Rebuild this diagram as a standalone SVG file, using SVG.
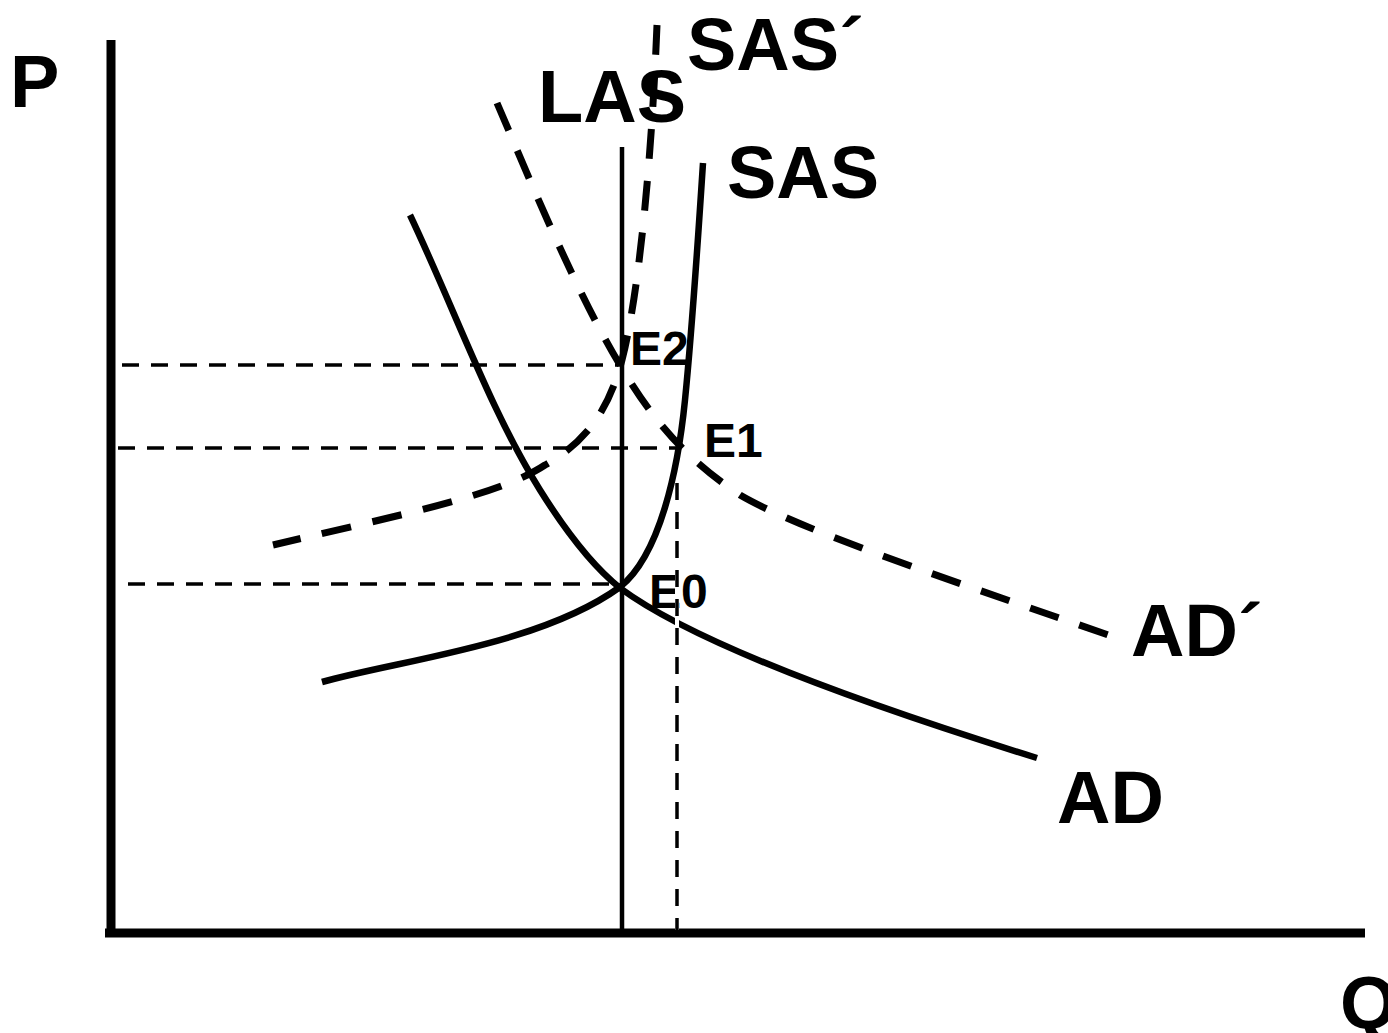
<svg xmlns="http://www.w3.org/2000/svg" width="1388" height="1033" viewBox="0 0 1388 1033">
<style>
.lbl{font-family:"Liberation Sans",Arial,sans-serif;font-weight:bold;fill:#000}
.big{font-size:74px}
.pt{font-size:48px}
.axis{stroke:#000;stroke-width:9;fill:none}
.solid{stroke:#000;stroke-width:6.5;fill:none}
.thick-dash{stroke:#000;stroke-width:7;fill:none;stroke-dasharray:30 22}
.thin-dash{stroke:#000;stroke-width:3.5;fill:none;stroke-dasharray:17 12}
</style>
<rect width="1388" height="1033" fill="#fff"/>
<g id="axes">
<line class="axis" x1="111" y1="40" x2="111" y2="935"/>
<line class="axis" x1="105" y1="933" x2="1365" y2="933"/>
<text class="lbl big" x="10" y="107">P</text>
<text class="lbl big" x="1340" y="1028">Q</text>
</g>
<g id="connectors">
<line class="thin-dash" x1="122" y1="365" x2="620" y2="365"/>
<line class="thin-dash" x1="118" y1="448" x2="680" y2="448"/>
<line class="thin-dash" x1="128" y1="584" x2="620" y2="584"/>
</g>
<g id="LAS">
<line x1="622" y1="147" x2="622" y2="930" stroke="#000" stroke-width="4.5"/>
<text class="lbl big" x="538" y="122">LAS</text>
</g>
<g id="AD">
<path class="solid" d="M410,215 C455,310 490,410 540,490 C570,538 595,568 620,588 C690,640 850,700 1037,758"/>
<text class="lbl big" x="1057" y="823">AD</text>
</g>
<g id="SAS">
<path class="solid" d="M322,682 C400,660 540,645 620,587 C660,555 678,470 685,400 C692,330 698,240 703,163"/>
<text class="lbl big" x="727" y="198">SAS</text>
</g>
<g id="AD-prime">
<path class="thick-dash" d="M497,103 C530,180 575,290 620,365 C650,415 680,455 740,495 C800,530 950,580 1117,638"/>
<text class="lbl big" x="1131" y="656">AD´</text>
</g>
<g id="SAS-prime">
<path class="thick-dash" d="M657,25 C652,150 640,290 622,360 C610,405 590,440 545,465 C500,495 400,515 273,545"/>
<text class="lbl big" x="687" y="70">SAS´</text>
</g>
<g id="E2"><text class="lbl pt" x="630" y="365">E2</text></g>
<g id="E1"><text class="lbl pt" x="704" y="457">E1</text></g>
<g id="E0"><text class="lbl pt" x="649" y="608">E0</text></g>
<g id="q-guide">
<line x1="677" y1="483" x2="677" y2="930" stroke="#fff" stroke-width="4"/>
<line class="thin-dash" x1="677" y1="483" x2="677" y2="930"/>
</g>
</svg>
